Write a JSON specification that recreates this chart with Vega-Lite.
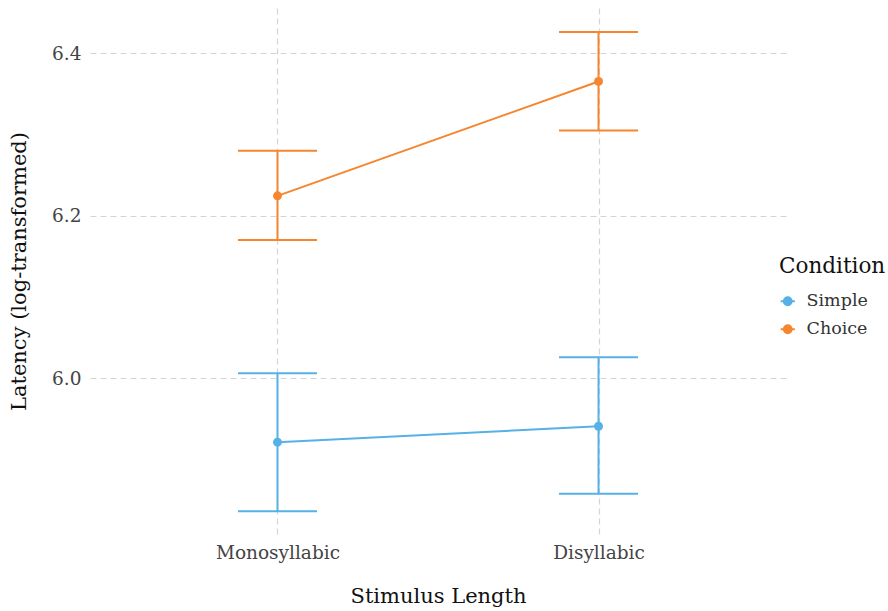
{
  "$schema": "https://vega.github.io/schema/vega-lite/v6.json",
  "autosize": {"type": "none"},
  "padding": {"left": 90, "top": 8, "right": 102, "bottom": 77},
  "width": 696,
  "height": 526,
  "background": "white",
  "config": {
    "view": {"stroke": null},
    "font": "DejaVu Serif",
    "axis": {
      "domain": false,
      "ticks": false,
      "grid": true,
      "gridColor": "#d4d4d4",
      "gridDash": [6, 4],
      "gridWidth": 1.2,
      "labelFont": "DejaVu Serif",
      "labelColor": "#444444",
      "labelFontSize": 18.5,
      "titleFont": "DejaVu Serif",
      "titleColor": "#111111",
      "titleFontSize": 21,
      "titleFontWeight": "normal"
    },
    "legend": {
      "titleFont": "DejaVu Serif",
      "labelFont": "DejaVu Serif",
      "titleFontSize": 21.5,
      "titleFontWeight": "normal",
      "titleColor": "#111111",
      "labelFontSize": 17.5,
      "labelColor": "#333333"
    }
  },
  "data": {
    "values": [
      {"length": "Monosyllabic", "condition": "Simple", "mean": 5.921, "lo": 5.836, "hi": 6.006},
      {"length": "Disyllabic", "condition": "Simple", "mean": 5.9406, "lo": 5.8576, "hi": 6.0255},
      {"length": "Monosyllabic", "condition": "Choice", "mean": 6.2242, "lo": 6.170, "hi": 6.2796},
      {"length": "Disyllabic", "condition": "Choice", "mean": 6.365, "lo": 6.3047, "hi": 6.4258}
    ]
  },
  "encoding": {
    "x": {
      "field": "length",
      "type": "nominal",
      "sort": ["Monosyllabic", "Disyllabic"],
      "scale": {"type": "point", "padding": 0.584},
      "title": "Stimulus Length",
      "axis": {"labelAngle": 0, "labelPadding": 9, "titlePadding": 24}
    },
    "color": {
      "field": "condition",
      "type": "nominal",
      "sort": ["Simple", "Choice"],
      "scale": {"domain": ["Simple", "Choice"], "range": ["#56B1E6", "#F5862F"]},
      "title": "Condition",
      "legend": {
        "orient": "none",
        "legendX": 689,
        "legendY": 248,
        "symbolType": "M -1,0 L 1,0 M -0.55,0 A 0.55,0.55 0 1,0 0.55,0 A 0.55,0.55 0 1,0 -0.55,0 Z",
        "symbolSize": 200,
        "symbolStrokeWidth": 2,
        "symbolOpacity": 1,
        "rowPadding": 9,
        "titlePadding": 15,
        "labelOffset": 10,
        "encode": {
          "symbols": {
            "update": {
              "fill": {"scale": "color", "field": "value"},
              "stroke": {"scale": "color", "field": "value"},
              "opacity": {"value": 1}
            }
          }
        }
      }
    }
  },
  "layer": [
    {
      "mark": {"type": "rule", "strokeWidth": 2, "opacity": 1},
      "encoding": {
        "y": {
          "field": "lo",
          "type": "quantitative",
          "scale": {"domain": [5.808, 6.4554], "nice": false, "zero": false},
          "axis": {"values": [6.0, 6.2, 6.4], "format": ".1f", "labelPadding": 9, "titlePadding": 22},
          "title": "Latency (log-transformed)"
        },
        "y2": {"field": "hi"}
      }
    },
    {
      "mark": {"type": "tick", "size": 79, "thickness": 2, "opacity": 1},
      "encoding": {"y": {"field": "lo", "type": "quantitative"}}
    },
    {
      "mark": {"type": "tick", "size": 79, "thickness": 2, "opacity": 1},
      "encoding": {"y": {"field": "hi", "type": "quantitative"}}
    },
    {
      "mark": {"type": "line", "strokeWidth": 2, "point": {"filled": true, "size": 80, "opacity": 1}},
      "encoding": {"y": {"field": "mean", "type": "quantitative"}}
    }
  ]
}
